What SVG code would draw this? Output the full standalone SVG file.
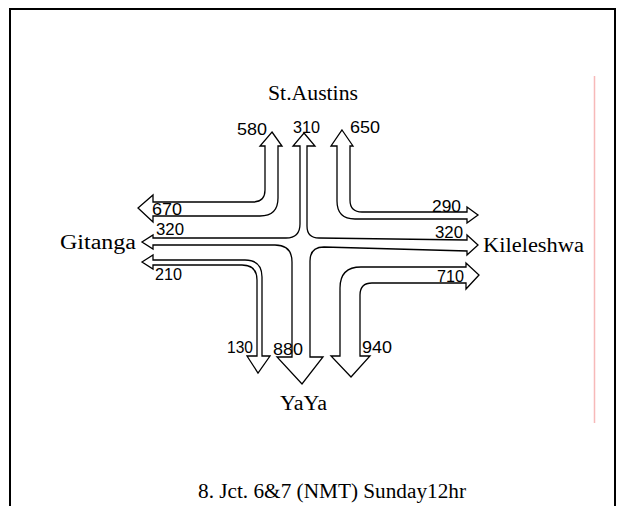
<svg xmlns="http://www.w3.org/2000/svg" width="621" height="506" viewBox="0 0 621 506">
<style>
.frame{fill:none;stroke:#000;stroke-width:2}
.arrow{fill:#fff;stroke:#000;stroke-width:1.3;stroke-linejoin:miter}
.num{font-family:"Liberation Sans",Arial,sans-serif;font-size:16.5px;fill:#000}
.place{font-family:"Liberation Serif","Times New Roman",serif;font-size:20px;fill:#000}
</style>
<rect width="621" height="506" fill="#fff"/>
<path class="frame" d="M10,507 L10,9 L615,9 L615,507"/>
<line x1="594.5" y1="76" x2="594.5" y2="423" stroke="#f7b9b9" stroke-width="1.5"/>
<g id="connectors">
<path id="cross" class="arrow" d="M304,133 L315,146 L307,146 L307,226 Q307,238 319,238 L467,240 L467,235 L478,245 L467,255 L467,251 L324,247 Q310,247 310,261 L310,357 L323,357 L302,384 L277,357 L292,357 L292,262 Q292,245 275,245 L153,245 L153,249 L142,242 L153,235 L153,238 L286,238 Q300,238 300,224 L300,146 L293,146 Z"/>
<path id="nw" class="arrow" d="M272,132 L282,146 L278,146 L278,198 Q278,216 260,216 L153,216 L153,222 L138,208 L153,195 L153,202 L253,202 Q265,202 265,190 L265,146 L260,146 Z"/>
<path id="ne" class="arrow" d="M342,130 L353,146 L350,146 L350,200 Q350,212 362,212 L467,212 L467,207 L478,215 L467,223 L467,219 L355,219 Q337,219 337,201 L337,146 L331,146 Z"/>
<path id="sw" class="arrow" d="M142,262 L153,255 L153,260 L245,260 Q262,260 262,277 L262,356 L270,356 L258,373 L247,356 L257,356 L257,280 Q257,265 242,265 L153,265 L153,269 Z"/>
<path id="se" class="arrow" d="M479,275 L466,289 L466,283 L372,283 Q360,283 360,295 L360,356 L370,356 L351,377 L331,356 L340,356 L340,288 Q340,267 361,267 L466,267 L466,263 Z"/>
</g>
<g id="volumes">
<text class="num" x="237" y="135" textLength="30" lengthAdjust="spacingAndGlyphs">580</text>
<text class="num" x="293" y="133" textLength="27" lengthAdjust="spacingAndGlyphs">310</text>
<text class="num" x="350" y="133" textLength="30" lengthAdjust="spacingAndGlyphs">650</text>
<text class="num" x="152" y="215" textLength="30" lengthAdjust="spacingAndGlyphs">670</text>
<text class="num" x="156" y="235" textLength="28" lengthAdjust="spacingAndGlyphs">320</text>
<text class="num" x="155" y="280" textLength="27" lengthAdjust="spacingAndGlyphs">210</text>
<text class="num" x="432" y="212" textLength="29" lengthAdjust="spacingAndGlyphs">290</text>
<text class="num" x="435" y="238" textLength="28" lengthAdjust="spacingAndGlyphs">320</text>
<text class="num" x="437" y="282" textLength="27" lengthAdjust="spacingAndGlyphs">710</text>
<text class="num" x="227" y="353" textLength="26" lengthAdjust="spacingAndGlyphs">130</text>
<text class="num" x="273" y="355" textLength="30" lengthAdjust="spacingAndGlyphs">880</text>
<text class="num" x="362" y="353" textLength="30" lengthAdjust="spacingAndGlyphs">940</text>
</g>
<g id="st-austins"><text class="place" x="268" y="100" textLength="90" lengthAdjust="spacingAndGlyphs">St.Austins</text></g>
<g id="gitanga"><text class="place" x="60" y="249" textLength="76" lengthAdjust="spacingAndGlyphs">Gitanga</text></g>
<g id="kileleshwa"><text class="place" x="483" y="252" textLength="101" lengthAdjust="spacingAndGlyphs">Kileleshwa</text></g>
<g id="yaya"><text class="place" x="280" y="410" textLength="47" lengthAdjust="spacingAndGlyphs">YaYa</text></g>
<text class="place" x="198" y="498" textLength="268" lengthAdjust="spacingAndGlyphs">8. Jct. 6&amp;7 (NMT) Sunday12hr</text>
</svg>
